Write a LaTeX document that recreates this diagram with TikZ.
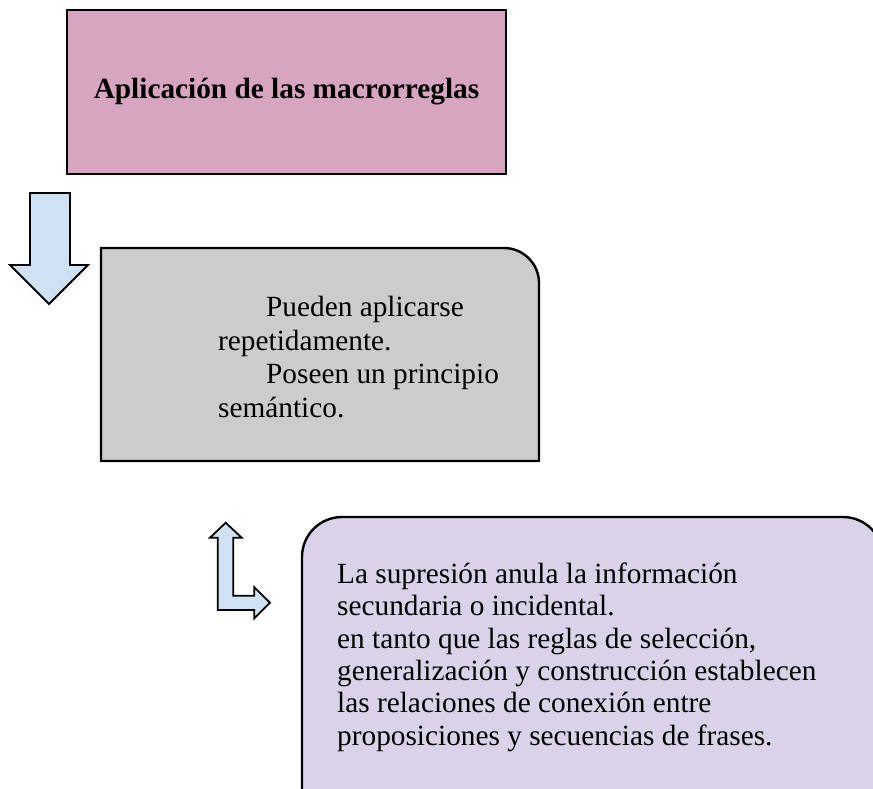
\documentclass[tikz,border=0pt]{standalone}
\usepackage{fontspec}
\setmainfont{Liberation Serif}
\definecolor{pinkfill}{RGB}{215,165,192}
\definecolor{grayfill}{RGB}{204,204,204}
\definecolor{lilacfill}{RGB}{217,210,233}
\definecolor{arrowfill}{RGB}{207,226,243}
\tikzset{
  boxline/.style={draw=black, line width=2.4pt, line join=miter},
  arrowshape/.style={draw=black, fill=arrowfill, line width=1.8pt, line join=miter},
  txt/.style={inner sep=0pt, font=\fontsize{29.3}{33.5}\selectfont},
}
\begin{document}
\begin{tikzpicture}[x=1pt,y=-1pt]
\useasboundingbox (0,0) rectangle (873,788);
\clip (0,0) rectangle (873,788);
% title box
\node[boxline, fill=pinkfill, minimum width=439pt, minimum height=164pt, inner sep=0pt,
      font=\fontsize{29.3}{33.5}\selectfont\bfseries] (title) at (286.5,92) {Aplicación de las macrorreglas};
% down arrow
\draw[arrowshape] (30,193) -- (70,193) -- (70,265) -- (88,265) -- (49,304) -- (10,265) -- (30,265) -- cycle;
% gray box
\draw[boxline, fill=grayfill] (101,461) -- (101,248) -- (504,248)
  .. controls (523.3,248) and (539,263.7) .. (539,283) -- (539,461) -- cycle;
\node[txt, anchor=north west, align=left] (gtext) at (218,296)
  {\hspace*{48pt}Pueden aplicarse\\repetidamente.\\\hspace*{48pt}Poseen un principio\\semántico.};
% L arrow
\draw[arrowshape] (225.7,522.7) -- (241.7,537.7) -- (233.3,537.7) -- (233.3,595.7) -- (254.3,595.7)
  -- (254.3,587.3) -- (270,602.7) -- (254.3,618.3) -- (254.3,610) -- (217.7,610) -- (217.7,537.7)
  -- (210,537.7) -- cycle;
% lilac box
\draw[boxline, fill=lilacfill] (302,820) -- (302,557) .. controls (302,534.9) and (319.9,517) .. (342,517)
  -- (843,517) .. controls (865.1,517) and (883,534.9) .. (883,557) -- (883,820) -- cycle;
\node[txt, anchor=north west, align=left, font=\fontsize{29.3}{32.4}\selectfont] (ptext) at (337,562.5)
  {La supresión anula la información\\secundaria o incidental.\\en tanto que las reglas de selección,\\generalización y construcción establecen\\las relaciones de conexión entre\\proposiciones y secuencias de frases.};
\end{tikzpicture}
\end{document}
